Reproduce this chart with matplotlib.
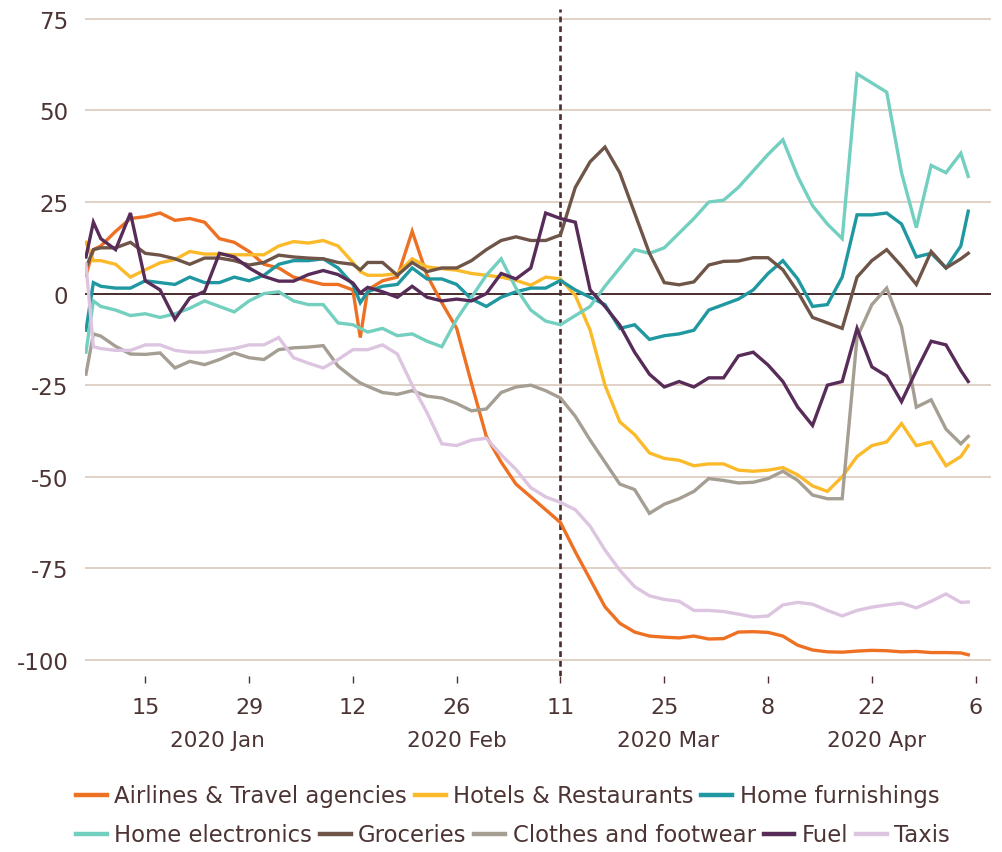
import matplotlib
matplotlib.use('Agg')
import matplotlib.pyplot as plt
import pandas as pd
from matplotlib.lines import Line2D

plt.rcParams['font.family'] = ['DejaVu Sans']
plt.rcParams['axes.unicode_minus'] = False

# sample dates (every second day, plus a few single-day features)
dates = ['2020-01-07', '2020-01-08', '2020-01-09', '2020-01-11', '2020-01-13', '2020-01-15', '2020-01-17',
         '2020-01-19', '2020-01-21', '2020-01-23', '2020-01-25', '2020-01-27', '2020-01-29', '2020-01-31',
         '2020-02-02', '2020-02-04', '2020-02-06', '2020-02-08', '2020-02-10', '2020-02-12', '2020-02-13',
         '2020-02-14', '2020-02-16', '2020-02-18', '2020-02-20', '2020-02-22', '2020-02-24', '2020-02-26',
         '2020-02-28',
         '2020-03-01', '2020-03-03', '2020-03-05', '2020-03-07', '2020-03-09', '2020-03-11', '2020-03-13',
         '2020-03-15', '2020-03-17', '2020-03-19', '2020-03-21', '2020-03-23', '2020-03-25', '2020-03-27',
         '2020-03-29', '2020-03-31',
         '2020-04-02', '2020-04-04', '2020-04-06', '2020-04-08', '2020-04-10', '2020-04-12', '2020-04-14',
         '2020-04-16', '2020-04-18', '2020-04-20', '2020-04-22', '2020-04-24', '2020-04-26', '2020-04-28',
         '2020-04-30',
         '2020-05-02', '2020-05-04', '2020-05-05']

airlines = [5, 12, 13, 17, 20.5, 21, 22, 20, 20.5, 19.5, 15, 14, 11.5, 8,
            7, 4.5, 3.5, 2.5, 2.5, 1, -12, 1, 3.5, 4.5, 17, 5, -2.5, -9.5, -24.5,
            -39, -46, -52, -55.5, -59, -62.5, -70.5, -78, -85.5, -90, -92.4, -93.5, -93.8, -94, -93.5, -94.3,
            -94.2, -92.4, -92.3, -92.5, -93.5, -96, -97.3, -97.8, -97.9, -97.6, -97.4, -97.5, -97.8, -97.7, -98,
            -98, -98.1, -98.6]
hotels = [14, 9, 9, 8, 4.5, 6.5, 8.4, 9.3, 11.5, 10.8, 10.8, 10.6, 10.6, 10.6,
          13, 14.2, 13.8, 14.5, 13, 8.5, 6, 5, 5, 5.5, 9.5, 7.3, 6.8, 6.4, 5.5,
          5, 4.5, 3.6, 2.3, 4.5, 4, -0.5, -10, -25, -35, -38.5, -43.5, -45, -45.5, -47, -46.5,
          -46.5, -48.2, -48.5, -48.2, -47.5, -49.5, -52.5, -54, -50, -44.5, -41.5, -40.5, -35.5, -41.5, -40.5,
          -47, -44.5, -41.5]
furnishings = [-10, 3, 2, 1.5, 1.5, 3.5, 3, 2.5, 4.5, 3, 3, 4.5, 3.5, 5,
               8, 9, 9, 9.5, 7, 2.5, -2.5, 0.5, 2, 2.5, 7, 4, 4, 2.5, -1.5,
               -3.5, -1, 0.5, 1.5, 1.5, 3.6, 1, -1, -3, -9.5, -8.5, -12.5, -11.5, -11, -10, -4.5,
               -3, -1.5, 1, 5.5, 9, 4, -3.5, -3, 4.5, 21.5, 21.5, 22, 19, 10, 11,
               7, 13, 22.5]
electronics = [-16, -2, -3.5, -4.5, -6, -5.5, -6.5, -5.5, -4, -2, -3.5, -5, -2, 0,
               0.5, -2, -3, -3, -8, -8.5, -9.5, -10.5, -9.5, -11.5, -11, -13, -14.5, -7, -1,
               5, 9.5, 1.5, -4.5, -7.5, -8.5, -6, -3.5, 2, 7, 12, 11, 12.5, 16.5, 20.5, 25,
               25.5, 29, 33.5, 38, 42, 32, 24, 19, 15, 60, 57.5, 55, 33, 18, 35,
               33, 38.3, 32]
groceries = [7, 12, 12.5, 12.5, 14, 11, 10.5, 9.5, 8, 9.7, 9.7, 9, 7.8, 8.5,
             10.5, 10, 9.7, 9.5, 8.5, 8, 6.5, 8.5, 8.5, 5, 8.5, 6, 7, 7, 9,
             12, 14.5, 15.5, 14.5, 14.5, 16, 29, 36, 40, 33, 22, 11, 3, 2.4, 3.2, 7.8,
             8.8, 8.9, 9.8, 9.8, 6.5, 0.5, -6.5, -8, -9.5, 4.5, 9, 12, 7.5, 2.5, 11.5,
             7, 9.5, 11]
clothes = [-22, -11, -11.6, -14.4, -16.5, -16.6, -16.2, -20.3, -18.5, -19.4, -18, -16.2, -17.5, -18,
           -15.3, -14.8, -14.6, -14.2, -19.8, -23, -24.4, -25.3, -27, -27.5, -26.5, -28, -28.5, -30, -32,
           -31.5, -27, -25.5, -25, -26.5, -28.5, -33.5, -40, -46, -52, -53.5, -60, -57.5, -56, -54, -50.5,
           -51, -51.7, -51.5, -50.5, -48.5, -51, -55, -56, -56, -12, -3, 1.5, -9, -31, -29,
           -37, -41, -39]
fuel = [10, 19.5, 15, 12, 22, 3.5, 1, -7, -1.2, 0.6, 11, 10, 7, 4.7,
        3.4, 3.4, 5.2, 6.3, 5.2, 2.9, 0.2, 1.7, 0.5, -1, 2, -1, -2, -1.5, -2,
        0, 5.5, 4, 7, 22, 20.5, 19.5, 1, -3.5, -8.6, -16, -22, -25.5, -24, -25.5, -23,
        -23, -17, -16, -19.5, -24, -31, -36, -25, -24, -9.5, -20, -22.5, -29.5, -21, -13,
        -14, -21, -24]
taxis = [8, -14.5, -15, -15.5, -15.5, -14, -14, -15.5, -16, -16, -15.5, -15, -14, -14,
         -12, -17.5, -19, -20.3, -18, -15.3, -15.3, -15.3, -14, -16.5, -25, -32.5, -41, -41.5, -40,
         -39.5, -44, -48, -53, -55.5, -57, -59, -63.5, -70, -75.5, -80, -82.5, -83.5, -84, -86.5, -86.5,
         -86.8, -87.5, -88.3, -88, -85, -84.3, -84.8, -86.5, -88, -86.5, -85.6, -85, -84.5, -85.8, -84,
         -82, -84.3, -84.2]

names = ['Airlines & Travel agencies', 'Hotels & Restaurants', 'Home furnishings', 'Home electronics',
         'Groceries', 'Clothes and footwear', 'Fuel', 'Taxis']
series = [airlines, hotels, furnishings, electronics, groceries, clothes, fuel, taxis]
colours = ['#EE7023', '#FBBA2A', '#1F98A2', '#73CFC0', '#6F5548', '#A59E93', '#582C58', '#DDC4E0']

tick_dates = ['2020-01-15', '2020-01-29', '2020-02-12', '2020-02-26', '2020-03-11',
              '2020-03-25', '2020-04-08', '2020-04-22', '2020-05-06']
tick_labels = ['15', '29', '12', '26', '11', '25', '8', '22', '6']
month_dates = ['2020-01-24 18:00', '2020-02-26', '2020-03-25 12:00', '2020-04-22 16:00']
month_labels = ['2020 Jan', '2020 Feb', '2020 Mar', '2020 Apr']
y_ticks = [-100, -75, -50, -25, 0, 25, 50, 75]

txt = '#4D3434'
dark = '#4A2E2E'

x = pd.to_datetime(dates)

fig = plt.figure(figsize=(10.02, 8.53), dpi=100)
ax = fig.add_axes([85/1002, 176/853, 906/1002, 667/853])

for vals, c in zip(series, colours):
    ax.plot(x, vals, color=c, lw=2.4, solid_joinstyle='miter', zorder=3)

ax.axhline(0, color=dark, lw=1.4, zorder=2)
ax.axvline(pd.Timestamp('2020-03-11'), color=dark, lw=1.9, ls=(0, (2.2, 1.5)), zorder=2)

ax.set_yticks(y_ticks)
ax.set_yticklabels([str(v) for v in y_ticks])
ax.yaxis.grid(True, color='#DCC9BC', lw=1.2, zorder=0)
ax.set_axisbelow(True)
ax.set_ylim(-104.4, 77.7)

jan15 = pd.Timestamp('2020-01-15')
ax.set_xlim(jan15 - pd.Timedelta(days=8.13), jan15 + pd.Timedelta(days=114.07))
ax.set_xticks(pd.to_datetime(tick_dates))
ax.set_xticklabels(tick_labels)

for s in ax.spines.values():
    s.set_visible(False)

ax.tick_params(axis='y', length=0, pad=12, labelsize=16.5, labelcolor=txt)
ax.tick_params(axis='x', length=5, width=1, color=txt, pad=10, labelsize=16, labelcolor=txt)

for d, lab in zip(month_dates, month_labels):
    ax.text(pd.Timestamp(d), -0.096, lab, transform=ax.get_xaxis_transform(),
            ha='center', va='center', fontsize=15.5, color=txt)

handles = [Line2D([], [], color=c, lw=3.2) for c in colours]
leg_kw = dict(loc='center left', frameon=False, fontsize=16.4, labelcolor=txt, handlelength=1.35,
              handletextpad=0.33, columnspacing=0.34, borderpad=0, borderaxespad=0)
fig.legend(handles[:3], names[:3], ncol=3, bbox_to_anchor=(76/1002, 1 - 797/853), **leg_kw)
fig.legend(handles[3:], names[3:], ncol=5, bbox_to_anchor=(76/1002, 1 - 836/853), **leg_kw)

fig.savefig('out.png', dpi=100)
